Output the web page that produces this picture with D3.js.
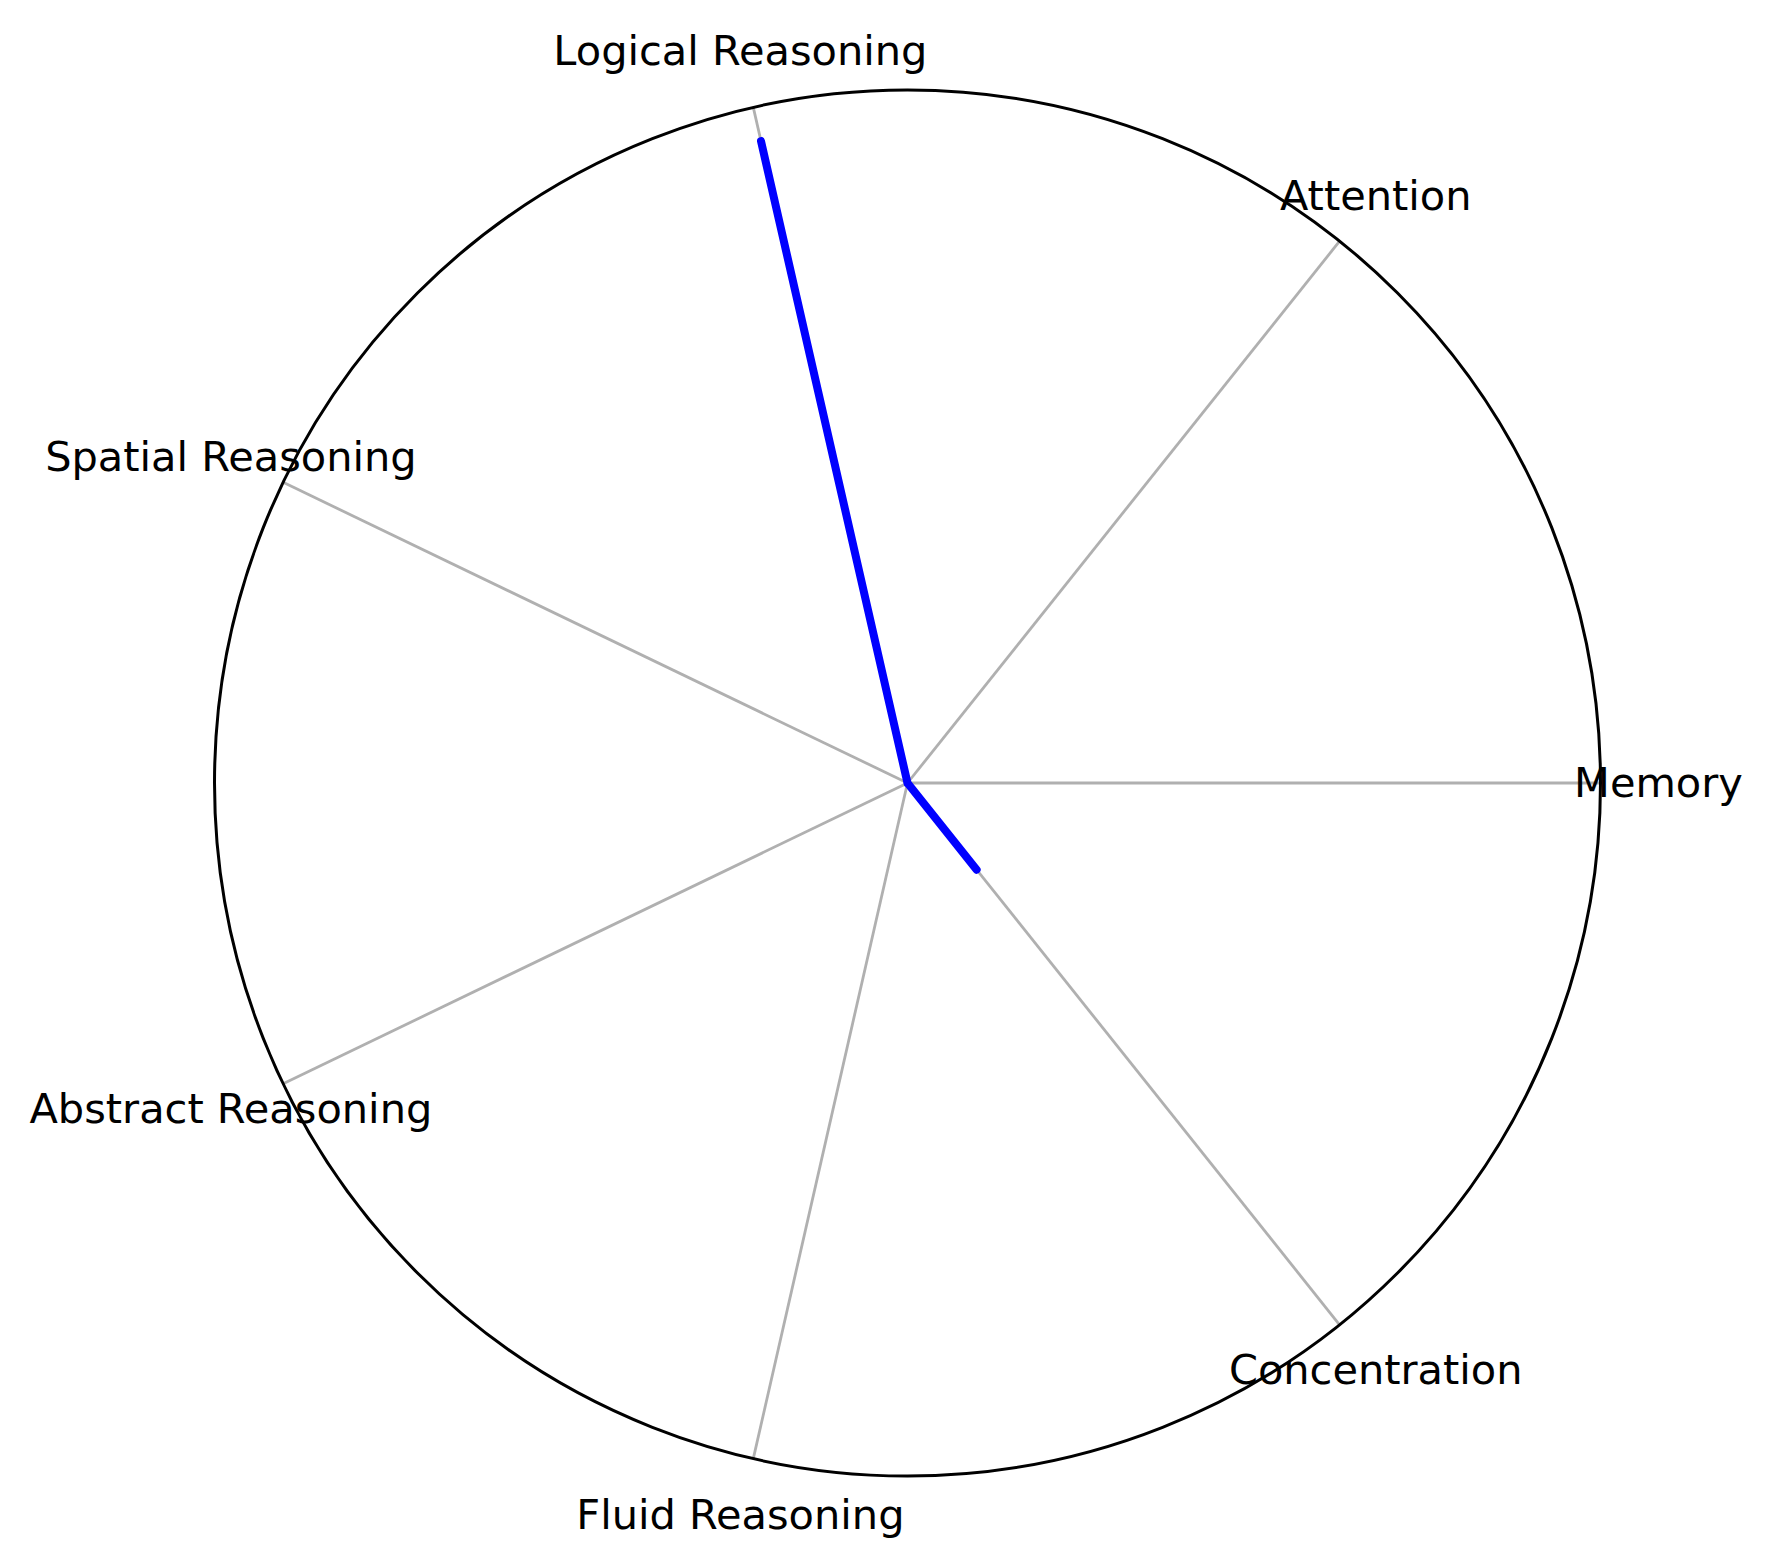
<!DOCTYPE html>
<html>
<head>
<meta charset="utf-8">
<script src="https://cdn.jsdelivr.net/npm/d3@7"></script>
<style>
html,body{margin:0;padding:0;background:#fff;}
svg{display:block;}
</style>
</head>
<body>
<svg id="chart" width="1774" height="1566"></svg>
<script>
const categories = ["Memory","Attention","Logical Reasoning","Spatial Reasoning","Abstract Reasoning","Fluid Reasoning","Concentration"];
const values = [0, 0, 95, 0, 0, 0, 16];
const radialDomain = [0, 100];

const W = 1774, H = 1566;
const cx = 907.5, cy = 783, R = 693;
const svg = d3.select("#chart");
const g = svg.append("g").attr("transform", `translate(${cx},${cy})`);

const n = categories.length;
const angle = d3.scaleLinear().domain([0, n]).range([0, 2 * Math.PI]);
const r = d3.scaleLinear().domain(radialDomain).range([0, R]);

const px = (a, rad) => rad * Math.cos(a);
const py = (a, rad) => -rad * Math.sin(a);

// radial gridlines
g.selectAll("line.grid").data(categories).enter().append("line")
  .attr("class", "grid")
  .attr("x1", 0).attr("y1", 0)
  .attr("x2", (d, i) => px(angle(i), r(radialDomain[1])))
  .attr("y2", (d, i) => py(angle(i), r(radialDomain[1])))
  .attr("stroke", "#b0b0b0").attr("stroke-width", 2.8);

// data line (closed)
const pts = values.map((v, i) => [px(angle(i), r(v)), py(angle(i), r(v))]);
pts.push(pts[0]);
g.append("path")
  .attr("d", d3.line()(pts))
  .attr("fill", "none")
  .attr("stroke", "#0000ff")
  .attr("stroke-width", 8)
  .attr("stroke-linejoin", "round")
  .attr("stroke-linecap", "round");

// outer spine
g.append("circle").attr("r", r(radialDomain[1]))
  .attr("fill", "none").attr("stroke", "#000").attr("stroke-width", 3);

// labels
g.selectAll("text.lab").data(categories).enter().append("text")
  .attr("class", "lab")
  .attr("x", (d, i) => px(angle(i), R + 58))
  .attr("y", (d, i) => py(angle(i), R + 58) + 14)
  .attr("text-anchor", "middle")
  .attr("font-family", "DejaVu Sans")
  .attr("font-size", 41.5)
  .attr("fill", "#000")
  .text(d => d);
</script>
</body>
</html>
